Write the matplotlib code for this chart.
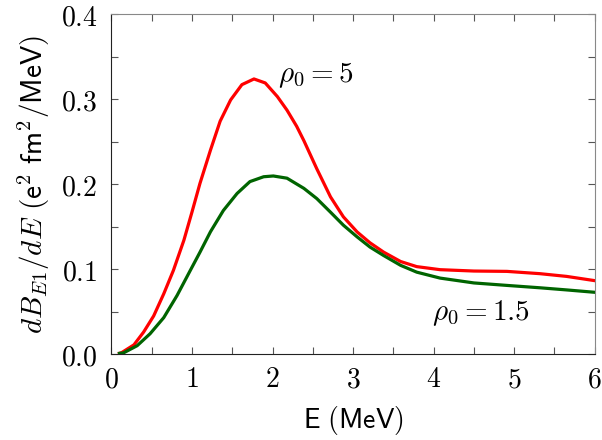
import matplotlib
matplotlib.use("Agg")
import matplotlib.pyplot as plt
from matplotlib.ticker import MultipleLocator
import numpy as np

plt.rcParams["mathtext.fontset"] = "cm"

# red curve, rho_0 = 5
e_red = [0.10, 0.13, 0.28, 0.40, 0.525, 0.65, 0.77, 0.90, 1.00, 1.10, 1.23, 1.35, 1.48, 1.62,
         1.77, 1.91, 2.06, 2.18, 2.30, 2.39, 2.55, 2.72, 2.88, 3.05, 3.21, 3.38, 3.59, 3.79,
         4.08, 4.50, 4.91, 5.32, 5.65, 6.00]
b_red = [0.001, 0.002, 0.011, 0.026, 0.045, 0.071, 0.0986, 0.134, 0.167, 0.201, 0.240, 0.274, 0.299, 0.317,
         0.3237, 0.319, 0.303, 0.287, 0.268, 0.251, 0.218, 0.185, 0.1615, 0.1438, 0.131, 0.120, 0.109, 0.103,
         0.0994, 0.0978, 0.0974, 0.0947, 0.0915, 0.0865]

# green curve, rho_0 = 1.5
e_grn = [0.10, 0.15, 0.32, 0.48, 0.65, 0.815, 0.98, 1.10, 1.23, 1.39, 1.56, 1.72, 1.89, 2.01,
         2.18, 2.32, 2.39, 2.55, 2.72, 2.88, 3.05, 3.21, 3.38, 3.59, 3.79, 4.08, 4.50, 4.91,
         5.32, 5.65, 6.00]
b_grn = [0.001, 0.0015, 0.010, 0.024, 0.043, 0.069, 0.0986, 0.120, 0.144, 0.169, 0.189, 0.203, 0.2087, 0.2096,
         0.207, 0.199, 0.195, 0.183, 0.167, 0.1517, 0.138, 0.126, 0.116, 0.1045, 0.0965, 0.0895, 0.0838, 0.0809,
         0.0781, 0.0756, 0.0728]

fig, ax = plt.subplots(figsize=(6.02, 4.40), dpi=100)
fig.subplots_adjust(left=0.185, right=0.988, top=0.968, bottom=0.195)

ax.plot(e_red, b_red, color="#ff0000", lw=2.3)
ax.plot(e_grn, b_grn, color="#006400", lw=2.3)

ax.set_xlim(0, 6)
ax.set_ylim(0, 0.4)
ax.xaxis.set_minor_locator(MultipleLocator(0.5))
ax.yaxis.set_minor_locator(MultipleLocator(0.05))
ax.set_xticks(range(7))
ax.set_xticklabels(["$%d$" % v for v in range(7)])
ax.set_yticks(np.arange(0, 0.41, 0.1))
ax.set_yticklabels(["$%.1f$" % v for v in np.arange(0, 0.41, 0.1)])
ax.tick_params(which="both", direction="in", top=True, right=True, labelsize=20)
ax.tick_params(axis="x", pad=8)
ax.tick_params(axis="y", pad=10)
ax.tick_params(which="both", length=5, width=0.8, color="#555555")
for s in ["top", "right"]:
    ax.spines[s].set_color("#888888")
for s in ["left", "bottom"]:
    ax.spines[s].set_color("#222222")

ax.set_xlabel(r"$\mathsf{E\ (MeV)}$", fontsize=20, labelpad=8)
ax.set_ylabel(r"$dB_{E1}/dE\ \mathsf{(e^2\ fm^2/MeV)}$", fontsize=21, labelpad=6)

ax.text(2.07, 0.328, r"$\rho_0 = 5$", fontsize=21, va="center", ha="left")
ax.text(3.98, 0.048, r"$\rho_0 = 1.5$", fontsize=21, va="center", ha="left")

plt.savefig("out.png", dpi=100)
